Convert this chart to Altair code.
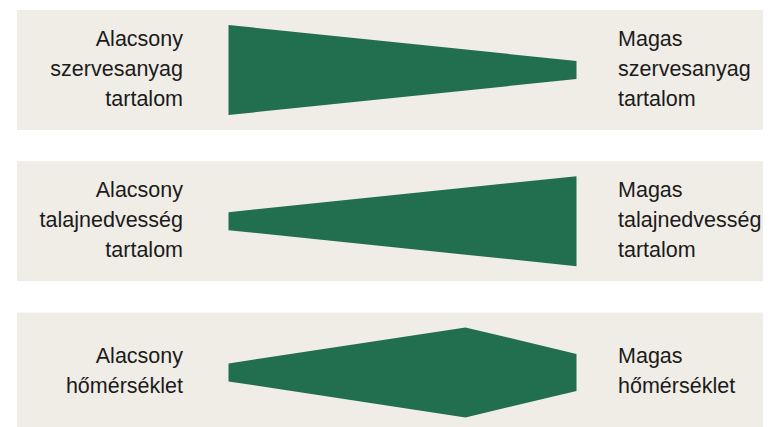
import altair as alt
import pandas as pd

# ---- data ----
row_ids = [0, 1, 2]
left_labels = [
    ["Alacsony", "szervesanyag", "tartalom"],
    ["Alacsony", "talajnedvesség", "tartalom"],
    ["Alacsony", "hőmérséklet"],
]
right_labels = [
    ["Magas", "szervesanyag", "tartalom"],
    ["Magas", "talajnedvesség", "tartalom"],
    ["Magas", "hőmérséklet"],
]
# relative position along the gradient (0 = low end, 1 = high end)
profile_pos = [[0, 1], [0, 1], [0, 0.681, 1]]
# thickness of the wedge at each position
profile_thickness = [[90, 18], [18, 90], [18, 90, 37]]

# ---- layout constants ----
W, H = 755, 419
ROW0, ROW_STEP, BAND = 62, 151.2, 120
LINE_H = 30
PX = 348.0            # pixels between low end (0) and high end (1)
X_LEFT = 220.5        # pixel of the low end inside the plot
X_MIN = -X_LEFT / PX
X_MAX = (W - X_LEFT) / PX
GREEN = "#226f4f"
BEIGE = "#f0ede6"
TEXT = "#1b1b1b"
FONT = "Liberation Sans"
FS = 21.5

def center(i):
    return ROW0 + ROW_STEP * i

shape_rows = []
for i, (ps, ts) in enumerate(zip(profile_pos, profile_thickness)):
    for p, t in zip(ps, ts):
        shape_rows.append({"row": i, "x": p, "y0": center(i) - t / 2, "y1": center(i) + t / 2})
shapes = pd.DataFrame(shape_rows)

bg = pd.DataFrame({
    "row": row_ids,
    "x0": [-0.6078] * 3,
    "x1": [X_MAX + 0.1] * 3,
    "y0": [center(i) - BAND / 2 for i in row_ids],
    "y1": [center(i) + BAND / 2 for i in row_ids],
})

labels = pd.DataFrame({
    "row": row_ids,
    "left": left_labels,
    "right": right_labels,
    "yc": [center(i) - (len(left_labels[i]) - 1) / 2 * LINE_H for i in row_ids],
    "lx": [-0.1307] * 3,
    "rx": [1.1193] * 3,
})

xs = alt.Scale(domain=[X_MIN, X_MAX], nice=False, zero=False)
ys = alt.Scale(domain=[0, H], reverse=True, nice=False, zero=False)
noax = None

bg_layer = alt.Chart(bg).mark_rect(color=BEIGE, clip=True).encode(
    x=alt.X("x0:Q", scale=xs, axis=noax),
    x2="x1:Q",
    y=alt.Y("y0:Q", scale=ys, axis=noax),
    y2="y1:Q",
)

area_layer = alt.Chart(shapes).mark_area(color=GREEN, opacity=1).encode(
    x=alt.X("x:Q", scale=xs, axis=noax),
    y=alt.Y("y0:Q", scale=ys, axis=noax),
    y2="y1:Q",
    detail="row:N",
)

left_text = alt.Chart(labels).mark_text(
    align="right", baseline="middle", font=FONT, fontSize=FS, lineHeight=LINE_H, color=TEXT
).encode(
    x=alt.X("lx:Q", scale=xs, axis=noax),
    y=alt.Y("yc:Q", scale=ys, axis=noax),
    text="left",
)

right_text = alt.Chart(labels).mark_text(
    align="left", baseline="middle", font=FONT, fontSize=FS, lineHeight=LINE_H, color=TEXT
).encode(
    x=alt.X("rx:Q", scale=xs, axis=noax),
    y=alt.Y("yc:Q", scale=ys, axis=noax),
    text="right",
)

chart = alt.layer(bg_layer, area_layer, left_text, right_text).properties(
    width=W, height=H, padding=0, autosize=alt.AutoSizeParams(type="none"),
).configure_view(stroke="transparent", strokeWidth=0)

chart.save("out.html", embed_options={"renderer": "svg", "actions": False})
